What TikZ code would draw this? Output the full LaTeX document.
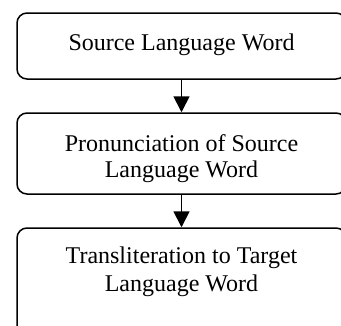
\documentclass[tikz,border=0pt]{standalone}
\usepackage{fontspec}
\setmainfont{Liberation Serif}
\usetikzlibrary{arrows.meta}
\begin{document}
\begin{tikzpicture}[x=1pt,y=-1pt,
  box/.style={draw, line width=1.5pt, rounded corners=10pt, minimum width=329pt, inner sep=0pt, align=center, font=\fontsize{24}{26}\selectfont},
  lbl/.style={inner sep=0pt, align=center, font=\fontsize{24}{26}\selectfont},
  conn/.style={line width=1.8pt, -{Triangle[width=16pt,length=16pt]}}]
\useasboundingbox (0,0) rectangle (341,325);
\clip (0,0) rectangle (341,325);
\node[box, minimum height=66pt] (b1) at (181.5,46) {};
\node[lbl, anchor=base] (t1) at (181.5,50) {Source Language Word};
\node[box, minimum height=81pt] (b2) at (181.5,153.5) {};
\node[lbl, anchor=base, font=\fontsize{24}{25.5}\selectfont] (t2) at (181.5,177) {Pronunciation of Source\\Language Word};
\node[box, minimum height=110pt] (b3) at (181.5,283) {};
\node[lbl, anchor=base, font=\fontsize{24}{28}\selectfont] (t3) at (181.5,291) {Transliteration to Target\\Language Word};
\draw[conn] (b1.south) -- (b2.north);
\draw[conn] (b2.south) -- (b3.north);
\end{tikzpicture}
\end{document}
